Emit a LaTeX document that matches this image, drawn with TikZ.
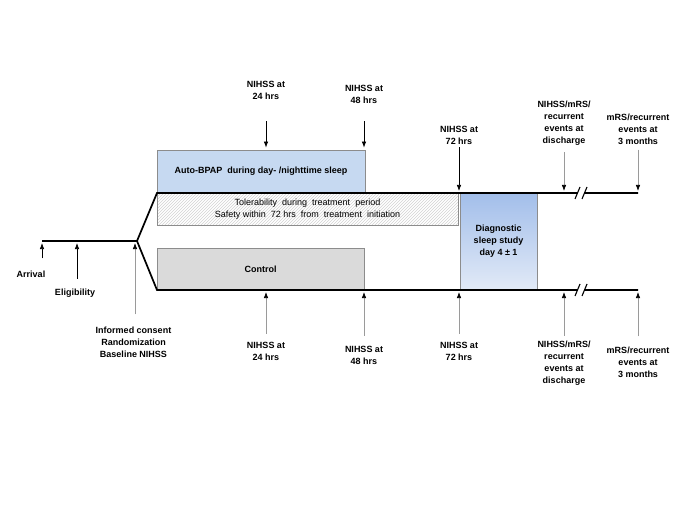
\documentclass[tikz,border=0pt]{standalone}
\usepackage{fontspec}
\setmainfont{Liberation Sans}
\usetikzlibrary{arrows.meta}
\usetikzlibrary{patterns}
\definecolor{bpapblue}{HTML}{C6D9F1}
\definecolor{ctrlgray}{HTML}{DADADA}
\definecolor{studytop}{HTML}{A2BEEA}
\definecolor{studybot}{HTML}{E2EAF7}
\definecolor{framegray}{HTML}{8C8C8C}
\definecolor{shaftgray}{HTML}{9A9A9A}
\tikzset{>=latex}

\begin{document}
\begin{tikzpicture}[x = 1pt, y = -1pt,
	lbl/.style = {font = \bfseries\fontsize{9}{12}\selectfont, align = center, inner sep = 0pt},
	armbox/.style = {draw = framegray, line width = 0.8pt, inner sep = 0pt},
	timeline/.style = {line width = 1.7pt, line join = miter},
	tip/.style = {-{Latex[length = 6pt, width = 4.5pt, color = black]}, line width = 0.7pt}]
\useasboundingbox (0,0) rectangle (685,513);

% arms
\node[armbox, fill = bpapblue, minimum width = 208pt, minimum height = 43pt, lbl] (bpap)
	at (261, 171.5) {Auto-BPAP\ \ during day- /nighttime sleep};
\node[armbox, pattern = north east lines, pattern color = gray!35, minimum width = 301pt,
	minimum height = 32pt, align = center, inner sep = 0pt, font = \fontsize{9}{11.5}\selectfont] (toler)
	at (307.5, 209) {Tolerability\ \ during\ \ treatment\ \ period\\Safety within\ \ 72 hrs\ \ from\ \ treatment\ \ initiation};
\node[armbox, fill = ctrlgray, minimum width = 207pt, minimum height = 42pt, lbl] (ctrl)
	at (260.5, 269) {Control};
\node[armbox, top color = studytop, bottom color = studybot, minimum width = 77pt,
	minimum height = 97pt, lbl] (study) at (498.5, 241.5) {Diagnostic\\sleep study\\day 4 ± 1};

% timeline
\coordinate (arrival) at (42, 241);
\coordinate (elig) at (77, 241);
\coordinate (consent) at (135, 241);
\coordinate (fork) at (137, 241);
\coordinate (upper) at (157, 193);
\coordinate (lower) at (157, 290);
\coordinate (upperend) at (638, 193);
\coordinate (lowerend) at (638, 290);
\draw[timeline] (arrival) -- (fork) -- (upper) -- (upperend);
\draw[timeline] (fork) -- (lower) -- (lowerend);

\foreach \y in {193, 290} {
	\fill[white] (575, {\y + 6}) -- (580, {\y - 6}) -- (587, {\y - 6}) -- (582, {\y + 6}) -- cycle;
	\draw[line width = 1.1pt] (575, {\y + 6}) -- (580, {\y - 6}) (582, {\y + 6}) -- (587, {\y - 6});
}

% inclusion
\foreach \name/\x/\y/\g/\c/\txt in {arrival/31/274/12/black/Arrival,
		elig/75/293/10/black/Eligibility,
		consent/133.5/342/12/shaftgray/{Informed consent\\Randomization\\Baseline NIHSS}} {
	\node[lbl] (\name-lbl) at (\x, \y) {\txt};
	\draw[tip, \c, shorten > = 2pt] ([yshift = \g pt]\name-lbl.north -| \name) -- (\name);
}

% assessments, upper arm
\foreach \name/\x/\y/\g/\c/\t/\txt in {t24/266/90/22/black/bpap.north/{NIHSS at\\24 hrs},
		t48/364/94/18/black/bpap.north/{NIHSS at\\48 hrs},
		t72/459/135/3/black/upper/{NIHSS at\\72 hrs},
		tdis/564/123/7/shaftgray/upper/{NIHSS/mRS/\\recurrent\\events at\\discharge},
		tmon/638/129/5/shaftgray/upper/{mRS/recurrent\\events at\\3 months}} {
	\node[lbl] (\name) at (\x, \y) {\txt};
	\draw[tip, \c, shorten > = 2pt] ([yshift = -\g pt]\name.south) -- (\name |- \t);
}

% assessments, lower arm
\foreach \name/\x/\y/\g/\txt in {b24/266/351/8/{NIHSS at\\24 hrs},
		b48/364/355/10/{NIHSS at\\48 hrs},
		b72/459/351/8/{NIHSS at\\72 hrs},
		bdis/564/363/5/{NIHSS/mRS/\\recurrent\\events at\\discharge},
		bmon/638/362/10/{mRS/recurrent\\events at\\3 months}} {
	\node[lbl] (\name) at (\x, \y) {\txt};
	\draw[tip, shaftgray, shorten > = 2pt] ([yshift = \g pt]\name.north) -- (\name |- lower);
}

\end{tikzpicture}
\end{document}
